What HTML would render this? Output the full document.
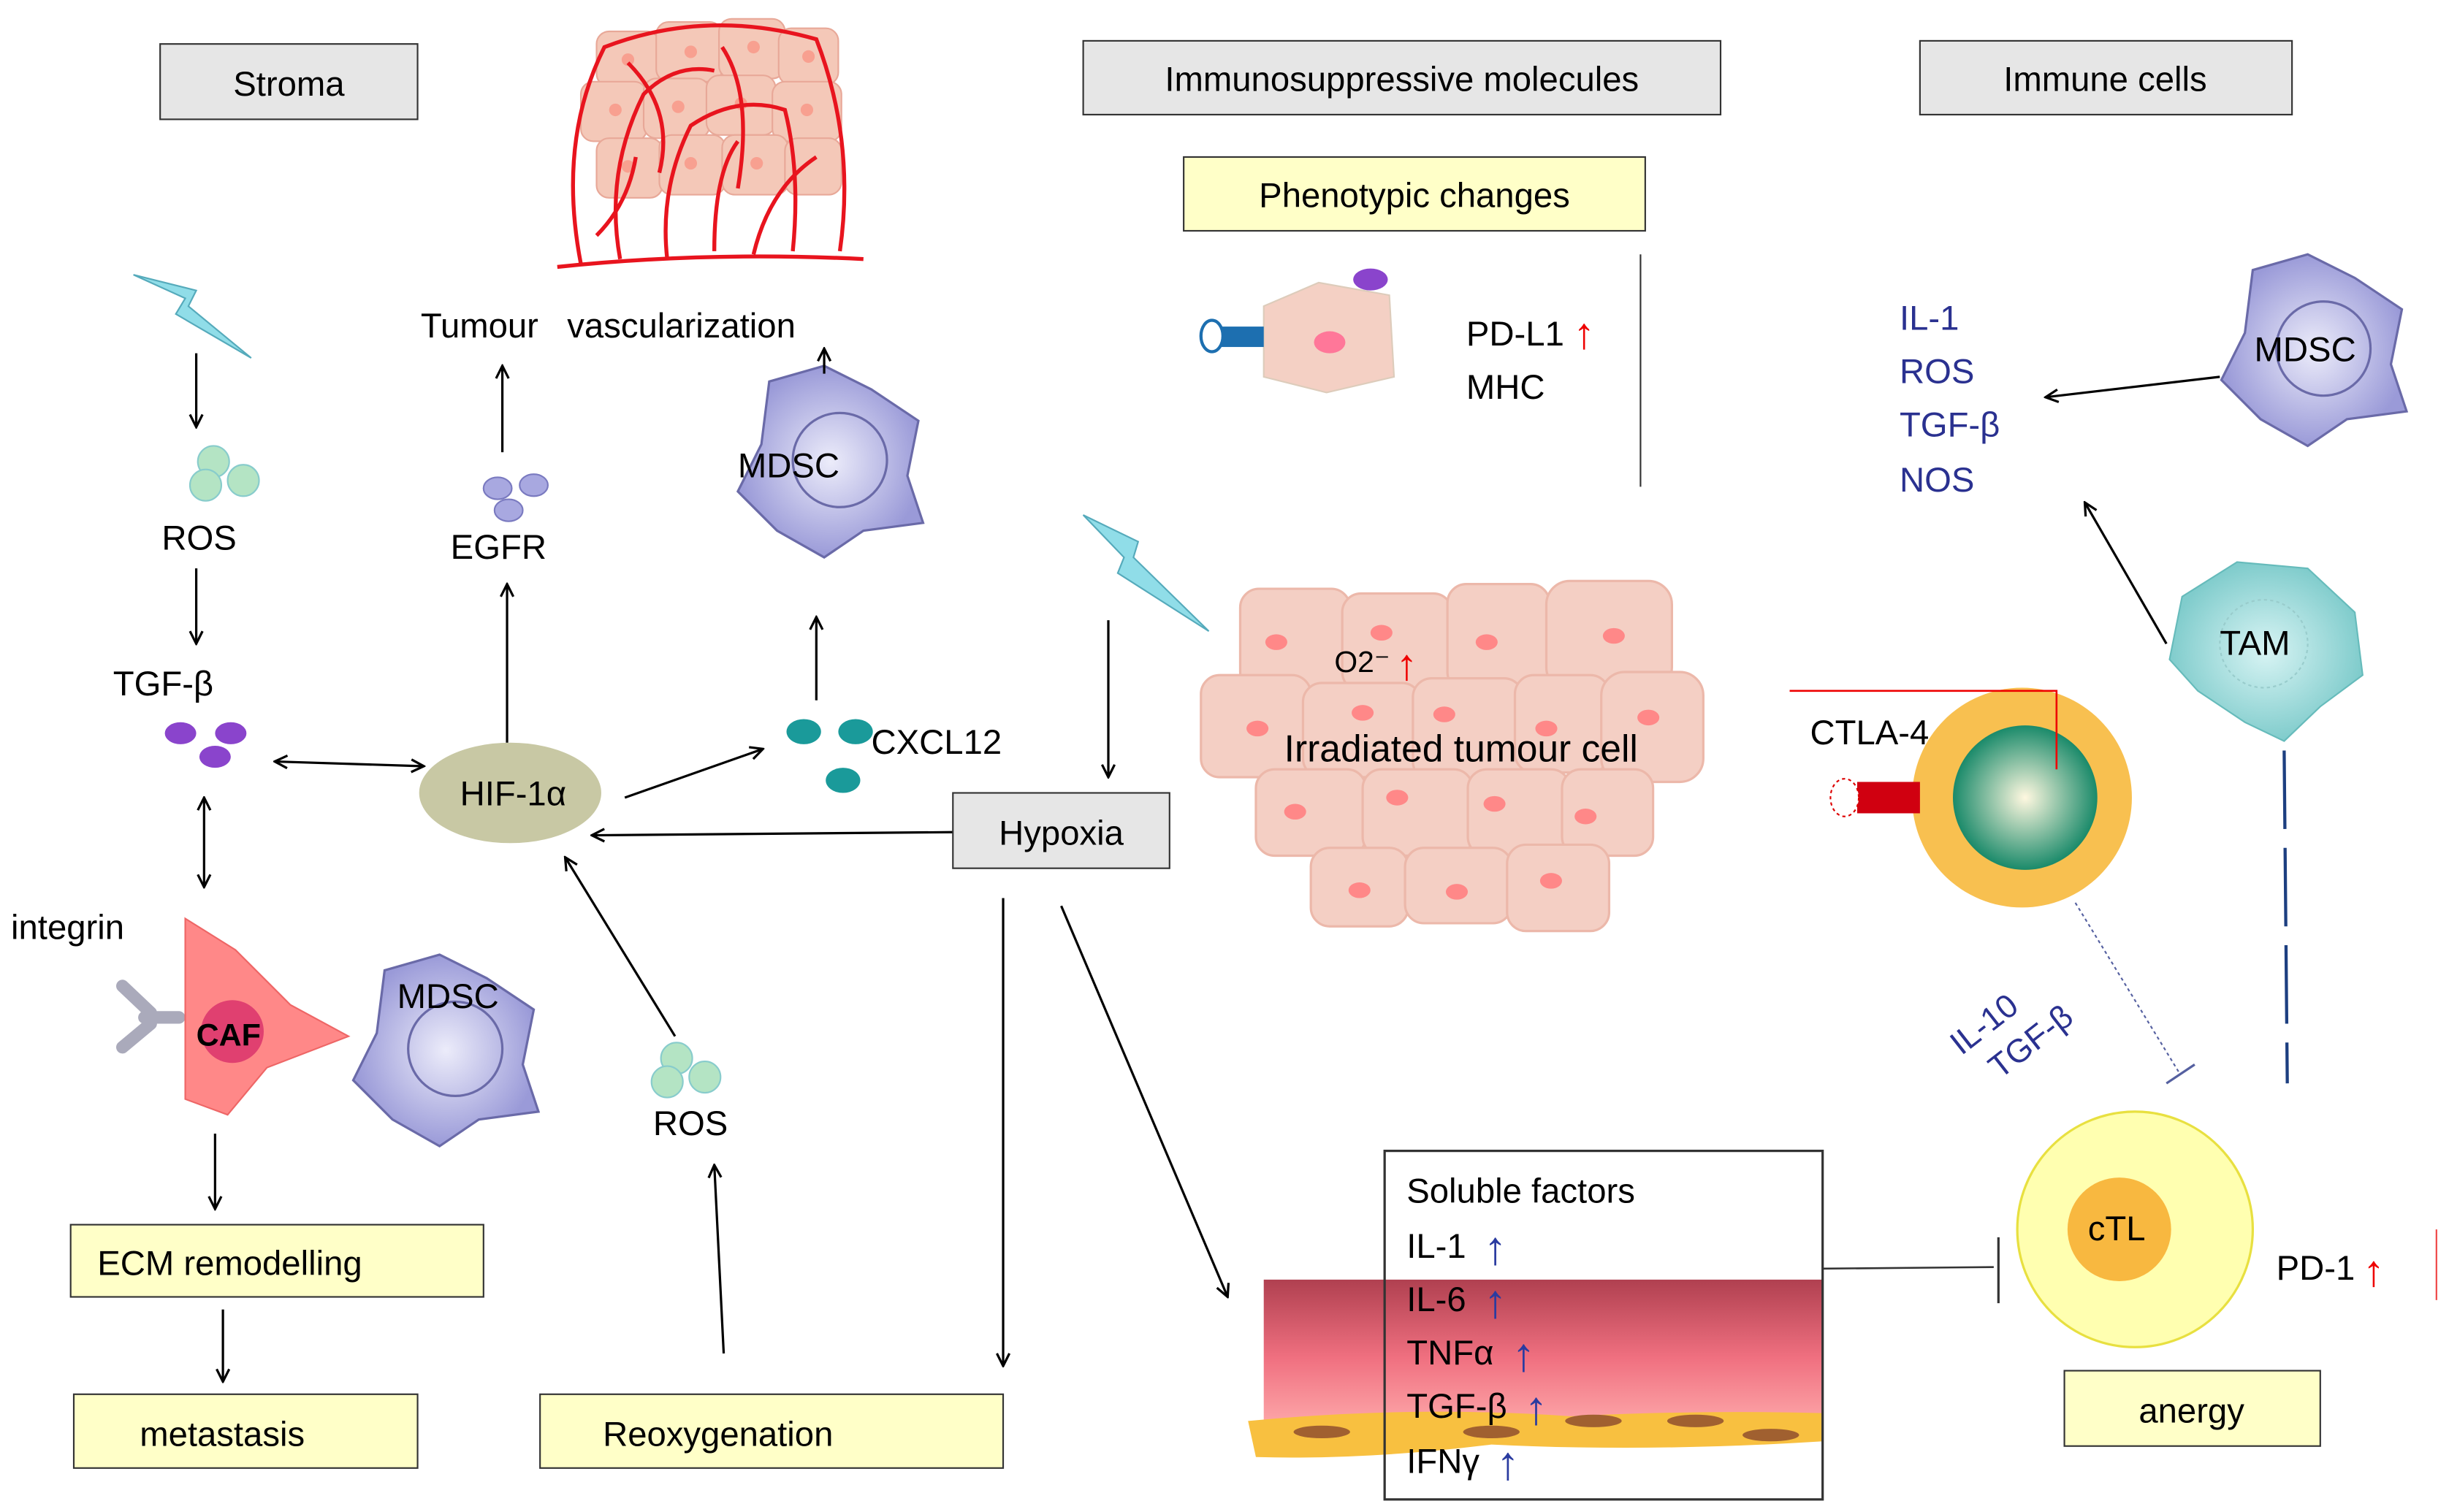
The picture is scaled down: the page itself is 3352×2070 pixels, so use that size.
<!DOCTYPE html>
<html><head><meta charset="utf-8"><style>
html,body{margin:0;padding:0;background:#fff;}
svg{display:block;}
text{font-family:"Liberation Sans",sans-serif;}
</style></head><body>
<svg width="3352" height="2070" viewBox="0 0 1560 963" preserveAspectRatio="none" xmlns="http://www.w3.org/2000/svg">
<defs>
<marker id="ar" markerWidth="10" markerHeight="10" refX="9" refY="5" orient="auto" markerUnits="userSpaceOnUse"><path d="M1,1 L9,5 L1,9" fill="none" stroke="#000" stroke-width="1.5"/></marker>
<marker id="ab" markerWidth="10" markerHeight="10" refX="1" refY="5" orient="auto" markerUnits="userSpaceOnUse"><path d="M9,1 L1,5 L9,9" fill="none" stroke="#000" stroke-width="1.5"/></marker>
<linearGradient id="vg" x1="0" y1="0" x2="0" y2="1"><stop offset="0" stop-color="#b04050"/><stop offset="0.5" stop-color="#f07080"/><stop offset="1" stop-color="#ffb0b0"/></linearGradient>
<radialGradient id="gc"><stop offset="0" stop-color="#fff8e0"/><stop offset="1" stop-color="#1a8a6a"/></radialGradient>
<radialGradient id="md"><stop offset="0" stop-color="#ececfa"/><stop offset="1" stop-color="#9a9ad8"/></radialGradient>
<radialGradient id="tm"><stop offset="0" stop-color="#d8f4f4"/><stop offset="1" stop-color="#80cccc"/></radialGradient>
<g id="mdsc"><path d="M-40,-50 L-5,-60 L25,-45 L55,-25 L48,10 L58,40 L20,45 L-5,62 L-35,45 L-60,20 L-45,-10 Z" fill="url(#md)" stroke="#6a6aa8" stroke-width="1.5"/><circle cx="5" cy="0" r="30" fill="none" stroke="#6a6aa8" stroke-width="1.5"/></g>
</defs>

<rect x="102" y="28" width="164" height="48" fill="#e6e6e6" stroke="#333"/>
<text x="184" y="61" font-size="22" text-anchor="middle">Stroma</text>
<rect x="690" y="26" width="406" height="47" fill="#e6e6e6" stroke="#333"/>
<text x="893" y="58" font-size="22" text-anchor="middle">Immunosuppressive molecules</text>
<rect x="1223" y="26" width="237" height="47" fill="#e6e6e6" stroke="#333"/>
<text x="1341" y="58" font-size="22" text-anchor="middle">Immune cells</text>
<rect x="754" y="100" width="294" height="47" fill="#ffffc8" stroke="#333"/>
<text x="901" y="132" font-size="22" text-anchor="middle">Phenotypic changes</text>

<!-- vasculature -->
<g fill="#f4c8b8" stroke="#e8a898" stroke-width="1">
<rect x="380" y="20" width="40" height="35" rx="8"/><rect x="418" y="14" width="42" height="38" rx="8"/><rect x="458" y="12" width="42" height="38" rx="8"/><rect x="496" y="18" width="38" height="36" rx="8"/>
<rect x="370" y="52" width="42" height="38" rx="8"/><rect x="410" y="50" width="42" height="38" rx="8"/><rect x="450" y="48" width="44" height="38" rx="8"/><rect x="492" y="52" width="44" height="38" rx="8"/>
<rect x="380" y="88" width="42" height="38" rx="8"/><rect x="420" y="86" width="42" height="38" rx="8"/><rect x="460" y="86" width="42" height="38" rx="8"/><rect x="500" y="88" width="36" height="36" rx="8"/>
</g>
<g fill="#f8a090"><circle cx="400" cy="38" r="4"/><circle cx="440" cy="33" r="4"/><circle cx="480" cy="30" r="4"/><circle cx="515" cy="36" r="4"/><circle cx="392" cy="70" r="4"/><circle cx="432" cy="68" r="4"/><circle cx="472" cy="66" r="4"/><circle cx="514" cy="70" r="4"/><circle cx="400" cy="106" r="4"/><circle cx="440" cy="104" r="4"/><circle cx="482" cy="104" r="4"/></g>
<g fill="none" stroke="#e8141e" stroke-width="2.5">
<path d="M355,170 Q450,160 550,165"/>
<path d="M370,168 Q355,90 385,30 Q450,5 520,25 Q545,90 535,160"/>
<path d="M395,165 Q385,110 410,60 Q430,40 455,45"/>
<path d="M425,165 Q420,120 440,80 Q470,60 500,70 Q510,110 505,160"/>
<path d="M455,160 Q455,110 470,90"/><path d="M480,162 Q490,120 520,100"/>
<path d="M400,40 Q430,70 420,110"/><path d="M460,30 Q480,60 470,120"/>
<path d="M380,150 Q400,130 405,100"/>
</g>
<text x="268" y="215" font-size="22" xml:space="preserve">Tumour   vascularization</text>

<!-- left column -->
<path d="M85,175 L125,185 L120,195 L160,228 L112,200 L118,190 Z" fill="#90dde8" stroke="#5ab" stroke-width="1"/>
<line x1="125" y1="225" x2="125" y2="272" stroke="#000" stroke-width="1.5" marker-end="url(#ar)"/>
<g fill="#b4e4c4" stroke="#8cc"><circle cx="136" cy="294" r="10"/><circle cx="155" cy="306" r="10"/><circle cx="131" cy="309" r="10"/></g>
<text x="103" y="350" font-size="22">ROS</text>
<line x1="125" y1="362" x2="125" y2="410" stroke="#000" stroke-width="1.5" marker-end="url(#ar)"/>
<text x="72" y="443" font-size="22">TGF-β</text>
<g fill="#8a44cc"><ellipse cx="115" cy="467" rx="10" ry="7"/><ellipse cx="147" cy="467" rx="10" ry="7"/><ellipse cx="137" cy="482" rx="10" ry="7"/></g>
<line x1="130" y1="508" x2="130" y2="565" stroke="#000" stroke-width="1.5" marker-start="url(#ab)" marker-end="url(#ar)"/>
<line x1="175" y1="485" x2="270" y2="488" stroke="#000" stroke-width="1.5" marker-start="url(#ab)" marker-end="url(#ar)"/>
<text x="7" y="598" font-size="22">integrin</text>
<path d="M78,628 L96,645 M78,667 L96,652 M92,648 L114,648" stroke="#aab" stroke-width="8" fill="none" stroke-linecap="round"/>
<path d="M118,585 L150,605 L185,640 L222,660 L170,680 L145,710 L118,700 Z" fill="#f88" stroke="#e66"/>
<circle cx="148" cy="657" r="20" fill="#e04070"/>
<text x="125" y="666" font-size="20" font-weight="bold">CAF</text>
<use href="#mdsc" x="285" y="668"/>
<text x="253" y="642" font-size="22">MDSC</text>
<line x1="137" y1="722" x2="137" y2="770" stroke="#000" stroke-width="1.5" marker-end="url(#ar)"/>
<rect x="45" y="780" width="263" height="46" fill="#ffffc8" stroke="#333"/>
<text x="62" y="812" font-size="22">ECM remodelling</text>
<line x1="142" y1="834" x2="142" y2="880" stroke="#000" stroke-width="1.5" marker-end="url(#ar)"/>
<rect x="47" y="888" width="219" height="47" fill="#ffffc8" stroke="#333"/>
<text x="89" y="921" font-size="22">metastasis</text>

<!-- middle -->
<ellipse cx="325" cy="505" rx="58" ry="32" fill="#c8c8a4"/>
<text x="293" y="513" font-size="22">HIF-1α</text>
<line x1="323" y1="473" x2="323" y2="372" stroke="#000" stroke-width="1.5" marker-end="url(#ar)"/>
<g fill="#a8a8e0" stroke="#7a7ac0"><ellipse cx="317" cy="311" rx="9" ry="7"/><ellipse cx="340" cy="309" rx="9" ry="7"/><ellipse cx="324" cy="325" rx="9" ry="7"/></g>
<text x="287" y="356" font-size="22">EGFR</text>
<line x1="320" y1="288" x2="320" y2="233" stroke="#000" stroke-width="1.5" marker-end="url(#ar)"/>
<use href="#mdsc" x="530" y="293"/>
<text x="470" y="304" font-size="22">MDSC</text>
<line x1="525" y1="238" x2="525" y2="222" stroke="#000" stroke-width="1.5" marker-end="url(#ar)"/>
<line x1="520" y1="446" x2="520" y2="393" stroke="#000" stroke-width="1.5" marker-end="url(#ar)"/>
<g fill="#1a9a9a"><ellipse cx="512" cy="466" rx="11" ry="8"/><ellipse cx="545" cy="466" rx="11" ry="8"/><ellipse cx="537" cy="497" rx="11" ry="8"/></g>
<text x="555" y="480" font-size="22">CXCL12</text>
<line x1="398" y1="508" x2="486" y2="477" stroke="#000" stroke-width="1.5" marker-end="url(#ar)"/>
<line x1="607" y1="530" x2="377" y2="532" stroke="#000" stroke-width="1.5" marker-end="url(#ar)"/>
<g fill="#b4e4c4" stroke="#8cc"><circle cx="431" cy="674" r="10"/><circle cx="449" cy="686" r="10"/><circle cx="425" cy="689" r="10"/></g>
<text x="416" y="723" font-size="22">ROS</text>
<line x1="430" y1="660" x2="360" y2="546" stroke="#000" stroke-width="1.5" marker-end="url(#ar)"/>
<line x1="461" y1="862" x2="455" y2="742" stroke="#000" stroke-width="1.5" marker-end="url(#ar)"/>
<rect x="344" y="888" width="295" height="47" fill="#ffffc8" stroke="#333"/>
<text x="384" y="921" font-size="22">Reoxygenation</text>
<rect x="607" y="505" width="138" height="48" fill="#e6e6e6" stroke="#333"/>
<text x="676" y="538" font-size="22" text-anchor="middle">Hypoxia</text>
<path d="M690,328 L725,345 L722,355 L770,402 L712,365 L716,355 Z" fill="#90dde8" stroke="#5ab" stroke-width="1"/>
<line x1="706" y1="395" x2="706" y2="495" stroke="#000" stroke-width="1.5" marker-end="url(#ar)"/>
<line x1="639" y1="572" x2="639" y2="870" stroke="#000" stroke-width="1.5" marker-end="url(#ar)"/>
<line x1="676" y1="577" x2="782" y2="826" stroke="#000" stroke-width="1.5" marker-end="url(#ar)"/>

<!-- phenotypic -->
<path d="M805,195 L840,180 L885,188 L888,240 L845,250 L805,240 Z" fill="#f4d0c4" stroke="#dcb"/>
<ellipse cx="847" cy="218" rx="10" ry="7" fill="#f79"/>
<ellipse cx="873" cy="178" rx="11" ry="7" fill="#8a44cc"/>
<rect x="775" y="208" width="30" height="13" fill="#1d6fb0"/>
<ellipse cx="772" cy="214" rx="7" ry="10" fill="#fff" stroke="#1d6fb0" stroke-width="2"/>
<text x="934" y="220" font-size="22">PD-L1</text><text x="1002" y="222" font-size="28" fill="#e00">↑</text>
<text x="934" y="254" font-size="22">MHC</text>
<line x1="1045" y1="162" x2="1045" y2="310" stroke="#333"/>

<!-- tumour cluster -->
<g fill="#f4cfc4" stroke="#ecb8aa" stroke-width="1.5">
<rect x="790" y="375" width="70" height="65" rx="12"/><rect x="855" y="378" width="70" height="62" rx="12"/><rect x="922" y="372" width="65" height="68" rx="12"/><rect x="985" y="370" width="80" height="70" rx="15"/>
<rect x="765" y="430" width="70" height="65" rx="12"/><rect x="830" y="435" width="75" height="60" rx="12"/><rect x="900" y="432" width="70" height="65" rx="12"/><rect x="965" y="430" width="60" height="62" rx="12"/><rect x="1020" y="428" width="65" height="70" rx="15"/>
<rect x="800" y="490" width="70" height="55" rx="12"/><rect x="868" y="490" width="70" height="55" rx="12"/><rect x="935" y="490" width="65" height="55" rx="12"/><rect x="995" y="490" width="58" height="55" rx="12"/>
<rect x="835" y="540" width="62" height="50" rx="12"/><rect x="895" y="540" width="68" height="48" rx="12"/><rect x="960" y="538" width="65" height="55" rx="12"/>
</g>
<g fill="#f88"><ellipse cx="813" cy="409" rx="7" ry="5"/><ellipse cx="880" cy="403" rx="7" ry="5"/><ellipse cx="947" cy="409" rx="7" ry="5"/><ellipse cx="1028" cy="405" rx="7" ry="5"/><ellipse cx="801" cy="464" rx="7" ry="5"/><ellipse cx="868" cy="454" rx="7" ry="5"/><ellipse cx="920" cy="455" rx="7" ry="5"/><ellipse cx="985" cy="464" rx="7" ry="5"/><ellipse cx="1050" cy="457" rx="7" ry="5"/><ellipse cx="825" cy="517" rx="7" ry="5"/><ellipse cx="890" cy="508" rx="7" ry="5"/><ellipse cx="952" cy="512" rx="7" ry="5"/><ellipse cx="1010" cy="520" rx="7" ry="5"/><ellipse cx="866" cy="567" rx="7" ry="5"/><ellipse cx="928" cy="568" rx="7" ry="5"/><ellipse cx="988" cy="561" rx="7" ry="5"/></g>
<text x="850" y="428" font-size="19">O2⁻</text><text x="889" y="433" font-size="28" fill="#e00">↑</text>
<text x="818" y="485" font-size="24">Irradiated tumour cell</text>

<!-- vessel & soluble factors -->
<rect x="805" y="815" width="356" height="100" fill="url(#vg)"/>
<path d="M795,905 Q900,895 1000,902 Q1080,898 1161,900 L1161,918 Q1050,925 950,920 Q870,930 800,928 Z" fill="#f8c040"/>
<g fill="#a06030"><ellipse cx="842" cy="912" rx="18" ry="4"/><ellipse cx="950" cy="912" rx="18" ry="4"/><ellipse cx="1015" cy="905" rx="18" ry="4"/><ellipse cx="1080" cy="905" rx="18" ry="4"/><ellipse cx="1128" cy="914" rx="18" ry="4"/></g>
<rect x="882" y="733" width="279" height="222" fill="none" stroke="#333" stroke-width="1.5"/>
<g font-size="22"><text x="896" y="766">Soluble factors</text><text x="896" y="801">IL-1</text><text x="896" y="835">IL-6</text><text x="896" y="869">TNFα</text><text x="896" y="903">TGF-β</text><text x="896" y="938">IFNγ</text></g>
<g font-size="30" fill="#2a3ba0"><text x="945" y="805">↑</text><text x="945" y="839">↑</text><text x="963" y="873">↑</text><text x="971" y="907">↑</text><text x="953" y="942">↑</text></g>
<line x1="1161" y1="808" x2="1270" y2="807" stroke="#333" stroke-width="1.2"/>
<line x1="1273" y1="788" x2="1273" y2="830" stroke="#333" stroke-width="1.5"/>

<!-- immune cells -->
<g font-size="22" fill="#2a3190"><text x="1210" y="210">IL-1</text><text x="1210" y="244">ROS</text><text x="1210" y="278">TGF-β</text><text x="1210" y="313">NOS</text></g>
<use href="#mdsc" x="1475" y="222"/>
<text x="1436" y="230" font-size="22">MDSC</text>
<line x1="1414" y1="240" x2="1303" y2="253" stroke="#000" stroke-width="1.5" marker-end="url(#ar)"/>
<line x1="1380" y1="410" x2="1328" y2="320" stroke="#000" stroke-width="1.5" marker-end="url(#ar)"/>
<path d="M1390,380 L1425,358 L1470,362 L1500,390 L1505,430 L1478,450 L1455,472 L1430,460 L1400,440 L1382,420 Z" fill="url(#tm)" stroke="#6bb"/>
<circle cx="1442" cy="410" r="28" fill="none" stroke="#9cc" stroke-dasharray="2,2"/>
<text x="1414" y="417" font-size="22">TAM</text>
<line x1="1455" y1="478" x2="1457" y2="690" stroke="#1d3f80" stroke-width="2" stroke-dasharray="50,12"/>
<circle cx="1288" cy="508" r="70" fill="#f8c050"/>
<circle cx="1290" cy="508" r="46" fill="url(#gc)"/>
<polyline points="1140,440 1310,440 1310,490" fill="none" stroke="#e00" stroke-width="1.2"/>
<rect x="1183" y="498" width="40" height="20" fill="#d00010"/>
<ellipse cx="1175" cy="508" rx="9" ry="12" fill="#fff" stroke="#d00" stroke-dasharray="2,2"/>
<text x="1153" y="474" font-size="22">CTLA-4</text>
<line x1="1322" y1="575" x2="1388" y2="683" stroke="#5560a0" stroke-width="1" stroke-dasharray="2,2"/>
<line x1="1380" y1="690" x2="1398" y2="678" stroke="#5560a0" stroke-width="1.5"/>
<g transform="rotate(-38 1280 655)" font-size="21" fill="#2a3190"><text x="1245" y="650">IL-10</text><text x="1255" y="677">TGF-β</text></g>
<circle cx="1360" cy="783" r="75" stroke="#e8e040" stroke-width="1.5" style="fill:#ffffb0"/>
<circle cx="1350" cy="783" r="33" fill="#f8b840"/>
<text x="1330" y="790" font-size="22">cTL</text>
<text x="1450" y="815" font-size="22">PD-1</text><text x="1505" y="819" font-size="28" fill="#e00">↑</text>
<line x1="1552" y1="783" x2="1552" y2="828" stroke="#e44" stroke-width="1"/>
<rect x="1315" y="873" width="163" height="48" fill="#ffffc8" stroke="#333"/>
<text x="1396" y="906" font-size="22" text-anchor="middle">anergy</text>
</svg>
</body></html>
